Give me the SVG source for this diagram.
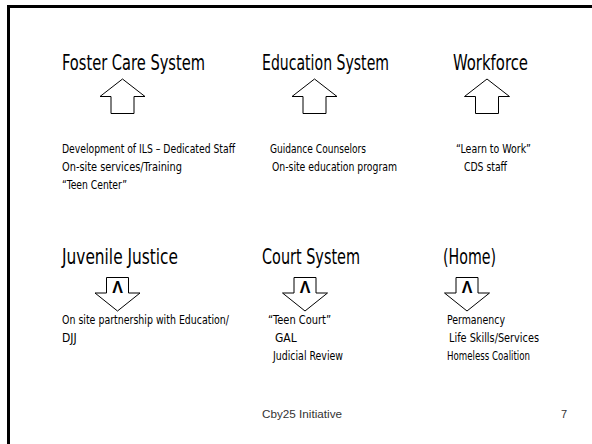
<svg xmlns="http://www.w3.org/2000/svg" width="592" height="444" viewBox="0 0 592 444">
<style>
.title{font-family:"DejaVu Sans Condensed","Liberation Sans Narrow","Liberation Sans",sans-serif;font-size:21px;fill:#000}
.body{font-family:"DejaVu Sans Condensed","Liberation Sans Narrow","Liberation Sans",sans-serif;font-size:12px;fill:#000}
.caret{font-family:"Liberation Sans",sans-serif;font-size:16px;font-weight:bold;fill:#000;text-anchor:middle}
.foot{font-family:"Liberation Sans",sans-serif;font-size:11px;fill:#333}
.arrow{fill:#fff;stroke:#000;stroke-width:1}
</style>
<defs>
<polygon id="up" class="arrow" points="0,0 22.5,17.5 11.5,17.5 11.5,34.5 -11.5,34.5 -11.5,17.5 -22.5,17.5"/>
<polygon id="down" class="arrow" points="-11,0 11,0 11,15.5 22.5,15.5 0,33.5 -22.5,15.5 -11,15.5"/>
</defs>
<rect x="8.5" y="6.5" width="600" height="460" fill="#fff" stroke="#000" stroke-width="3"/>
<g id="foster">
<text class="title" x="62" y="70" textLength="143" lengthAdjust="spacingAndGlyphs">Foster Care System</text>
<text class="body" x="62" y="153" textLength="173" lengthAdjust="spacingAndGlyphs">Development of ILS – Dedicated Staff</text>
<text class="body" x="62" y="171" textLength="120" lengthAdjust="spacingAndGlyphs">On-site services/Training</text>
<text class="body" x="62" y="189" textLength="65" lengthAdjust="spacingAndGlyphs">“Teen Center”</text>
</g>
<g id="education">
<text class="title" x="262" y="70" textLength="127" lengthAdjust="spacingAndGlyphs">Education System</text>
<text class="body" x="270" y="153" textLength="96" lengthAdjust="spacingAndGlyphs">Guidance Counselors</text>
<text class="body" x="272" y="171" textLength="125" lengthAdjust="spacingAndGlyphs">On-site education program</text>
</g>
<g id="workforce">
<text class="title" x="453" y="70" textLength="75" lengthAdjust="spacingAndGlyphs">Workforce</text>
<text class="body" x="456" y="153" textLength="75" lengthAdjust="spacingAndGlyphs">“Learn to Work”</text>
<text class="body" x="464" y="171" textLength="43" lengthAdjust="spacingAndGlyphs">CDS staff</text>
</g>
<g id="juvenile">
<text class="title" x="62" y="264" textLength="116" lengthAdjust="spacingAndGlyphs">Juvenile Justice</text>
<text class="body" x="62" y="324" textLength="167" lengthAdjust="spacingAndGlyphs">On site partnership with Education/</text>
<text class="body" x="62" y="342">DJJ</text>
</g>
<g id="court">
<text class="title" x="262" y="264" textLength="98" lengthAdjust="spacingAndGlyphs">Court System</text>
<text class="body" x="268" y="324" textLength="63" lengthAdjust="spacingAndGlyphs">“Teen Court”</text>
<text class="body" x="275" y="342">GAL</text>
<text class="body" x="273" y="360" textLength="70" lengthAdjust="spacingAndGlyphs">Judicial Review</text>
</g>
<g id="home">
<text class="title" x="443" y="264" textLength="53" lengthAdjust="spacingAndGlyphs">(Home)</text>
<text class="body" x="447" y="324" textLength="58" lengthAdjust="spacingAndGlyphs">Permanency</text>
<text class="body" x="449" y="342" textLength="90" lengthAdjust="spacingAndGlyphs">Life Skills/Services</text>
<text class="body" x="447" y="360" textLength="83" lengthAdjust="spacingAndGlyphs">Homeless Coalition</text>
</g>
<g id="connectors">
<use href="#up" x="122.5" y="79"/>
<use href="#up" x="314.5" y="79"/>
<use href="#up" x="487" y="79"/>
<use href="#down" x="117.5" y="277.5"/>
<use href="#down" x="305" y="277.5"/>
<use href="#down" x="467" y="277.5"/>
<text class="caret" x="117.5" y="293">Λ</text>
<text class="caret" x="305" y="293">Λ</text>
<text class="caret" x="467" y="293">Λ</text>
</g>
<g id="footer">
<text class="foot" x="262" y="418" textLength="80" lengthAdjust="spacingAndGlyphs">Cby25 Initiative</text>
<text class="foot" x="561" y="418">7</text>
</g>
</svg>
